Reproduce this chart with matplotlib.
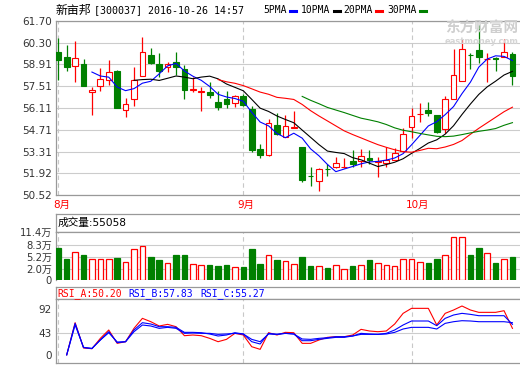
import matplotlib
matplotlib.use('Agg')
import matplotlib.pyplot as plt
import numpy as np
import pandas as pd

plt.rcParams['font.family'] = ['DejaVu Sans', 'Noto Sans CJK SC']

# ---------------- data ----------------
title_name = '新亩邦'
title_code = '[300037] 2016-10-26 14:57'
ma_names = ['5PMA', '10PMA', '20PMA', '30PMA']
ma_periods = [5, 10, 20, 30]

opens = [59.69, 59.39, 58.83, 58.94, 57.12, 57.50, 57.89, 58.47, 55.96, 56.67,
         58.14, 59.52, 58.94, 58.72, 59.07, 58.62, 57.27, 57.14, 57.16, 56.52,
         56.71, 56.41, 56.86, 56.02, 53.50, 53.07, 55.00, 54.27, 54.85, 53.60,
         51.76, 51.40, 52.21, 52.30, 52.31, 52.68, 52.73, 52.92, 52.66, 52.60,
         52.79, 53.37, 54.87, 55.70, 55.98, 55.64, 54.74, 56.71, 57.82, 59.52,
         59.84, 59.24, 59.30, 59.41, 59.56]
closes = [59.22, 58.77, 59.30, 57.54, 57.27, 57.95, 58.40, 56.13, 56.37, 57.93,
          59.69, 59.02, 58.51, 58.94, 58.72, 57.25, 57.35, 57.18, 56.97, 56.20,
          56.39, 56.86, 56.30, 53.43, 53.07, 55.15, 54.42, 54.93, 54.88, 51.48,
          51.72, 52.17, 52.18, 52.55, 52.33, 52.53, 53.03, 52.79, 52.70, 52.77,
          53.20, 54.42, 55.62, 55.74, 55.81, 54.57, 56.67, 58.23, 59.88, 59.49,
          59.41, 59.27, 59.27, 59.69, 58.17]
highs = [60.61, 60.16, 60.41, 59.24, 57.48, 58.70, 59.19, 58.55, 56.73, 58.72,
         60.69, 59.94, 59.64, 59.09, 59.73, 58.87, 58.08, 57.48, 57.78, 57.22,
         57.20, 56.95, 57.01, 56.24, 53.80, 55.38, 55.77, 55.66, 55.92, 53.60,
         52.32, 52.25, 52.49, 52.96, 52.90, 53.41, 53.48, 53.41, 52.96, 53.60,
         53.54, 54.80, 56.11, 56.41, 56.50, 55.64, 56.88, 59.88, 60.52, 59.62,
         61.44, 59.62, 59.41, 60.52, 59.69]
lows = [57.91, 58.49, 57.80, 57.54, 55.66, 57.22, 57.57, 56.09, 55.51, 56.26,
        58.14, 58.92, 58.10, 58.40, 58.23, 56.71, 57.12, 55.90, 56.75, 56.00,
        56.13, 56.20, 56.24, 53.30, 52.92, 53.00, 54.35, 54.22, 54.83, 51.36,
        51.12, 50.80, 51.76, 52.25, 52.25, 52.34, 52.34, 52.53, 51.70, 52.30,
        52.77, 53.30, 54.16, 55.23, 55.62, 54.53, 54.48, 56.71, 57.82, 58.64,
        59.02, 57.78, 58.51, 59.37, 57.57]
volumes = [7.6, 5.0, 6.6, 5.9, 5.1, 4.9, 4.9, 5.2, 4.2, 7.3,
           8.0, 5.5, 4.75, 4.0, 5.9, 5.9, 3.7, 3.5, 3.6, 3.3,
           3.6, 3.0, 3.1, 7.4, 3.8, 5.9, 4.75, 4.4, 3.8, 5.5,
           3.3, 3.25, 2.8, 3.5, 2.6, 3.3, 3.5, 4.75, 4.0, 3.5,
           3.25, 4.9, 4.9, 4.3, 4.0, 5.0, 5.9, 10.1, 10.1, 5.9,
           7.6, 6.4, 4.0, 4.9, 5.5]
nan = np.nan
rsi_a = [nan, 0, 64.3, 13.7, 12.3, 33, 49.7, 23, 26.3, 53, 73, 66.3, 57.7, 61, 56.3,
         38.3, 39.7, 38.3, 33, 26.3, 31, 43, 39.7, 16.3, 11, 44.3, 39.7, 45, 44.3,
         23, 23, 29.7, 35, 36.3, 36.3, 39.7, 51, 47.7, 46.3, 47.7, 61.7, 83, 93, 93,
         93, 59.7, 83, 89.7, 97.7, 89.7, 85, 85, 85, 88.3, 53]
rsi_b = [nan, 0, 63, 14.5, 12.5, 29.7, 46.3, 24.3, 26.3, 49.7, 64.3, 61.7, 56.3, 56.3, 55,
         45, 45, 44.3, 41.7, 37.7, 39.7, 44.3, 41.7, 26.3, 21.7, 43, 41, 43, 41.7,
         28.3, 28.3, 31, 33, 35, 35, 37.7, 43, 41.7, 41, 43, 49.7, 59.7, 67.7, 67.7,
         67.7, 58.3, 73, 79.7, 83, 81, 78.3, 78.3, 78.3, 78.3, 61]
rsi_c = [nan, 0, 59.7, 15, 13, 29.7, 44.3, 25.7, 26.3, 46.3, 59.7, 57.7, 53, 55, 53,
         43, 43.7, 43, 43, 41, 41.7, 43, 41.7, 31, 26.3, 41.7, 41, 43, 41.7,
         31.7, 31, 33, 34.3, 36.3, 36.3, 37.7, 41, 41, 41, 41.7, 45, 51.7, 55, 55,
         55, 51.7, 63, 66.3, 68.3, 67.7, 66.3, 66.3, 66.3, 66.3, 64.3]
rsi_header = [('RSI_A:50.20', 'red'), ('RSI_B:57.83', 'blue'), ('RSI_C:55.27', 'blue')]
vol_header = '成交量:55058'
month_labels = ['8月', '9月', '10月']
month_starts = [0, 22, 42]
price_ticks = [50.52, 51.92, 53.31, 54.71, 56.11, 57.51, 58.91, 60.30, 61.70]
vol_max = 11.4
vol_tick_labels = ['0', '2.0万', '5.2万', '8.3万', '11.4万']
rsi_ticks = [0, 43, 92]

# ---------------- layout helpers ----------------
W, H = 520, 365
fig = plt.figure(figsize=(W / 100, H / 100), dpi=100)
fig.patch.set_facecolor('white')

RED = '#ff0000'
GREEN = '#008000'
BLUE = '#0000ff'
FRAME = '#999999'
GRID = '#cccccc'
LBL = '#333333'
X0, STEP = 58.3, 8.41
AX_L, AX_R = 56, 520
xlim = ((AX_L - X0) / STEP, (AX_R - X0) / STEP)


def px_axes(x0, y0, x1, y1):
    ax = fig.add_axes([x0 / W, 1 - y1 / H, (x1 - x0) / W, (y1 - y0) / H])
    ax.set_xlim(*xlim)
    for s in ['top', 'left', 'bottom']:
        ax.spines[s].set_color(FRAME)
        ax.spines[s].set_linewidth(0.9)
    ax.spines['right'].set_visible(False)
    ax.set_xticks([])
    ax.tick_params(axis='y', length=0, pad=3, labelsize=7.5, labelcolor=LBL)
    return ax


def ftext(x, y, s, **kw):
    return fig.text(x / W, 1 - y / H, s, va='center', **kw)


n = len(closes)
x = np.arange(n)
o = np.array(opens)
c = np.array(closes)
up = c >= o

# ---------------- main price panel ----------------
ax = px_axes(AX_L, 21, AX_R, 195)
ax.set_ylim(price_ticks[0], price_ticks[-1])
ax.set_yticks(price_ticks)
ax.set_yticklabels([f'{t:.2f}' for t in price_ticks])
ax.grid(axis='y', color=GRID, lw=0.8)
ax.set_axisbelow(True)
for m in month_starts:
    ax.axvline(m, color='#c8c8c8', lw=0.8, ls=(0, (4, 3)), zorder=1)

cols = np.where(up, RED, GREEN)
ax.vlines(x, lows, highs, colors=cols, lw=0.9, zorder=2)
body_bottom = np.minimum(o, c)
body_h = np.maximum(np.abs(c - o), 0.015)
ax.bar(x, body_h, bottom=body_bottom, width=0.68,
       facecolor=np.where(up, 'white', GREEN), edgecolor=cols, lw=0.8, zorder=3)

ma_colors = [BLUE, 'black', RED, GREEN]
cs = pd.Series(closes)
for p, col in zip(ma_periods, ma_colors):
    ax.plot(x, cs.rolling(p).mean(), color=col, lw=0.8, zorder=4)

# watermark
ftext(482, 28, '东方财富网', fontsize=10.5, fontweight='bold', color='#cfcfcf',
      ha='center', family=['Noto Sans CJK SC'])
ftext(482, 41, 'eastmoney.com', fontsize=6, fontweight='bold', color='#d5d5d5', ha='center')

# title line
ftext(56, 10, title_name, fontsize=8.6, family=['Noto Sans CJK SC'], color='black')
ftext(93.5, 10, title_code, fontsize=7.2, family=['DejaVu Sans Mono'], color='black')
leg_x = [263, 301, 343, 387]
for lx, name, col in zip(leg_x, ma_names, ma_colors):
    ftext(lx, 10, name, fontsize=7.0, family=['DejaVu Sans Mono'], color='black')
    mx = lx + len(name) * 5.85 + 4
    fig.add_artist(plt.Line2D([mx / W, (mx + 6) / W], [1 - 11 / H, 1 - 11 / H],
                              color=col, lw=2.2, transform=fig.transFigure))

# month labels
for m, lab in zip(month_starts, month_labels):
    ftext(X0 + STEP * m - 5.5, 205, lab, fontsize=7.5, color=RED, ha='left')

# ---------------- volume panel ----------------
axh = px_axes(AX_L, 214, AX_R, 232)
axh.set_yticks([])
axh.text(0.004, 0.5, vol_header, transform=axh.transAxes, va='center', ha='left',
         fontsize=7.7, color='black')

VB = 280
axv = px_axes(AX_L, 232, AX_R, VB)
axv.spines['bottom'].set_visible(False)
axv.set_ylim(0, vol_max)
# tick / grid rows sit where the reference draws them (pixel rows 269, 257, 245)
grid_rows = [VB, 269, 257.3, 245.3, 232]
vt = [(VB - r) / (VB - 232) * vol_max for r in grid_rows]
axv.set_yticks(vt)
axv.set_yticklabels(vol_tick_labels)
for t in vt[1:-1]:
    axv.axhline(t, color=GRID, lw=0.8, zorder=0)
for m in month_starts:
    axv.axvline(m, color='#c8c8c8', lw=0.8, ls=(0, (4, 3)), zorder=1)
axv.bar(x, volumes, width=0.66, facecolor=np.where(up, 'white', GREEN),
        edgecolor=cols, lw=0.9, zorder=3)
for lab in axv.get_yticklabels():
    lab.set_fontsize(7.2)

# ---------------- RSI panel ----------------
axrh = px_axes(AX_L, 287, AX_R, 299)
axrh.set_yticks([])
hx = [57, 128.5, 200]
for hxx, (s, col) in zip(hx, rsi_header):
    ftext(hxx, 293.5, s, fontsize=7.0, family=['DejaVu Sans Mono'], color=col)

axr = px_axes(AX_L, 299, AX_R, 363)
axr.set_ylim(-16.3, 111.7)
axr.set_yticks(rsi_ticks)
axr.set_yticklabels([str(t) for t in rsi_ticks])
axr.axhline(43, color=GRID, lw=0.8, zorder=0)
for m in month_starts:
    axr.axvline(m, color='#c8c8c8', lw=0.8, ls=(0, (4, 3)), zorder=1)
axr.plot(x, rsi_a, color=RED, lw=0.8, zorder=3)
axr.plot(x, rsi_b, color=BLUE, lw=0.8, zorder=4)
axr.plot(x, rsi_c, color=BLUE, lw=0.8, zorder=4)

fig.savefig('out.png', dpi=100, facecolor='white')
